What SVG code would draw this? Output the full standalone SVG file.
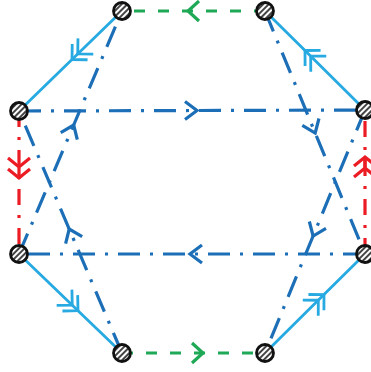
<svg xmlns="http://www.w3.org/2000/svg" width="371" height="372" viewBox="0 0 371 372">
<style>
.lb{fill:none;stroke:#27aae1;stroke-width:2.8}
.db{fill:none;stroke:#1c6fb7;stroke-width:3.2;stroke-dasharray:22 10 3 10}
.gr{fill:none;stroke:#1fa855;stroke-width:3.2;stroke-dasharray:11 13}
.rd{fill:none;stroke:#ec1c24;stroke-width:3.2;stroke-dasharray:16 10 3 10}
.node{fill:url(#hatch);stroke:#111;stroke-width:2.8}
</style>
<defs>
<pattern id="hatch" patternUnits="userSpaceOnUse" width="4" height="4" patternTransform="rotate(-45)">
<rect width="4" height="4" fill="#fff"/>
<line x1="0" y1="1" x2="4" y2="1" stroke="#444" stroke-width="2"/>
</pattern>
<marker id="aDB" markerUnits="userSpaceOnUse" orient="auto" refX="0" refY="0" overflow="visible">
<path d="M-12,-9 L0,0 L-12,9" fill="none" stroke="#1c6fb7" stroke-width="3.2"/>
</marker>
<marker id="aGR" markerUnits="userSpaceOnUse" orient="auto" refX="0" refY="0" overflow="visible">
<path d="M-11,-10 L0,0 L-11,10" fill="none" stroke="#1fa855" stroke-width="3.2"/>
</marker>
<marker id="aRD" markerUnits="userSpaceOnUse" orient="auto" refX="0" refY="0" overflow="visible">
<path d="M-9,-11 L0,0 L-9,11 M-20,-11 L-11,0 L-20,11 M-11,0 L0,0" fill="none" stroke="#ec1c24" stroke-width="3.2"/>
</marker>
<marker id="aLB" markerUnits="userSpaceOnUse" orient="auto" refX="0" refY="0" overflow="visible">
<path d="M-11,-11 L0,0 L-11,11 M-19,-11 L-8,0 L-19,11" fill="none" stroke="#27aae1" stroke-width="2.8"/>
</marker>
</defs>
<g id="connectors">
<path class="gr" d="M265,11 L188,11 L122,11" marker-mid="url(#aGR)"/>
<path class="gr" d="M122,353 L203,353 L265,353" marker-mid="url(#aGR)"/>
<path class="rd" d="M19,111 L19,178 L19,254" marker-mid="url(#aRD)"/>
<path class="rd" d="M365,254 L365,157 L365,110" marker-mid="url(#aRD)"/>
<path class="lb" d="M122,11 L72,59.5 L19,111" marker-mid="url(#aLB)"/>
<path class="lb" d="M365,110 L305,50.5 L265,11" marker-mid="url(#aLB)"/>
<path class="lb" d="M19,254 L78,310.7 L122,353" marker-mid="url(#aLB)"/>
<path class="lb" d="M265,353 L324,294.6 L365,254" marker-mid="url(#aLB)"/>
<path class="db" d="M19,111 L197,110.5 L365,110" marker-mid="url(#aDB)"/>
<path class="db" d="M365,254 L190,254 L19,254" marker-mid="url(#aDB)"/>
<path class="db" d="M19,254 L73.7,125 L122,11" marker-mid="url(#aDB)"/>
<path class="db" d="M122,353 L69.2,229 L19,111" marker-mid="url(#aDB)"/>
<path class="db" d="M265,11 L315.2,133 L365,254" marker-mid="url(#aDB)"/>
<path class="db" d="M365,110 L313.1,236 L265,353" marker-mid="url(#aDB)"/>
</g>
<g id="n_tl"><circle class="node" cx="122" cy="11" r="8.5"/></g>
<g id="n_tr"><circle class="node" cx="265" cy="11" r="8.5"/></g>
<g id="n_lu"><circle class="node" cx="19" cy="111" r="8.5"/></g>
<g id="n_ru"><circle class="node" cx="365" cy="110" r="8.5"/></g>
<g id="n_ll"><circle class="node" cx="19" cy="254" r="8.5"/></g>
<g id="n_rl"><circle class="node" cx="365" cy="254" r="8.5"/></g>
<g id="n_bl"><circle class="node" cx="122" cy="353" r="8.5"/></g>
<g id="n_br"><circle class="node" cx="265" cy="353" r="8.5"/></g>
</svg>
